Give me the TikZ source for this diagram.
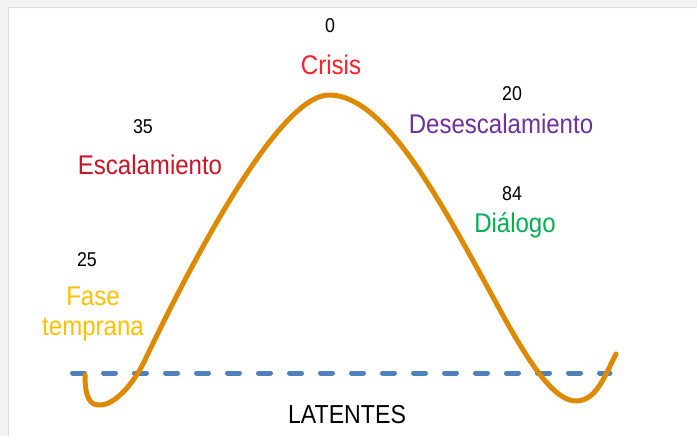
\documentclass[tikz,border=0pt]{standalone}
\usepackage{fontspec}
\setmainfont[FakeStretch=0.89]{Liberation Sans}
\usepackage{xcolor}
\usepackage{tikz}
\usetikzlibrary{calc,positioning}
\usepackage{tkz-euclide}

\definecolor{curveorange}{RGB}{221,138,0}
\definecolor{dashblue}{RGB}{79,129,189}
\definecolor{crisisred}{RGB}{255,32,40}
\definecolor{escred}{RGB}{204,20,40}
\definecolor{despurple}{RGB}{112,48,160}
\definecolor{dialgreen}{RGB}{0,176,80}
\definecolor{fasegold}{RGB}{255,192,0}
\definecolor{margingray}{RGB}{242,242,242}
\definecolor{frameblue}{RGB}{213,220,235}

\begin{document}
\begin{tikzpicture}[x=1pt,y=-1pt,line cap=round,line join=round,
  phase/.style={anchor=base,align=center,font=\fontsize{27}{30}\selectfont},
  count/.style={anchor=base,font=\fontsize{20}{22}\selectfont}]
\useasboundingbox (0,0) rectangle (697,436);
%\label{fig:fases}
\fill[margingray] (0,0) rectangle (697,436);
\fill[white] (8.5,7.5) rectangle (697,436);
\draw[frameblue,line width=1.5pt,line cap=butt] (8.5,436) -- (8.5,7.5) -- (697,7.5);
\tkzDefPoint(85,375){A} \tkzDefPoint(101,405){B} \tkzDefPoint(145,360){C}
\tkzDefPoint(329,95){P} \tkzDefPoint(500,310){D} \tkzDefPoint(577,401){E}
\tkzDefPoint(616,354){F}
%\tkzDrawPoints(A,B,C,P,D,E,F)
\coordinate (l) at (72.5,373); \coordinate (r) at (610,373);
\draw[dashblue,line width=5pt,dash pattern=on 12pt off 19pt] (l) -- (r);
\draw[curveorange,line width=5pt] (A) .. controls (85,398) and (90,406) .. (B)
  .. controls (115,404) and (133,385) .. (C)
  .. controls (195,255) and (280,95) .. (P)
  .. controls (385,95) and (440,200) .. (D)
  .. controls (530,365) and (555,402) .. (E)
  .. controls (597,400) and (605,375) .. (F);
\node[count] (n0) at (330,33) {0};
\node[phase,text=crisisred] (crisis) at (331,75) {Crisis};
\node[count] (n20) at (512,100) {20};
\node[phase,text=despurple] (deses) at (501,133) {Desescalamiento};
\node[count] (n84) at (512,200) {84};
\node[phase,text=dialgreen] (dialogo) at (515,232) {Diálogo};
\node[count] (n35) at (143,133) {35};
\node[phase,text=escred] (escal) at (150,175) {Escalamiento};
\node[count] (n25) at (87,266) {25};
\node[phase,text=fasegold] (fase) at (93,335) {Fase\\temprana};
\node[phase,font=\fontsize{26}{30}\selectfont] (latentes) at (347,423) {LATENTES};
\end{tikzpicture}
\end{document}
